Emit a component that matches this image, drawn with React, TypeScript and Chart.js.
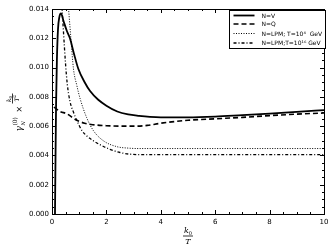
import React, { useEffect, useRef } from "react";
import { Chart, registerables } from "chart.js";
Chart.register(...registerables);

// N=V (solid)
const vK = [0.11, 0.13, 0.15, 0.18, 0.22, 0.27, 0.33, 0.42, 0.54, 0.66, 0.8, 0.97, 1.2, 1.4, 1.7, 2.0, 2.4, 2.8, 3.2, 3.6, 4.0, 5.0, 6.0, 7.0, 8.0, 9.0, 10.0];
const vG = [0, 0.004, 0.0075, 0.0105, 0.0126, 0.01345, 0.0137, 0.0132, 0.01253, 0.0120, 0.0110, 0.0099, 0.0090, 0.0084, 0.0078, 0.0074, 0.0070, 0.0068, 0.0067, 0.00663, 0.0066, 0.0066, 0.00665, 0.00675, 0.00685, 0.00697, 0.0071];
// N=Q (dashed)
const qK = [0.07, 0.3, 0.54, 0.91, 1.2, 1.5, 2.0, 2.5, 3.0, 3.5, 4.0, 5.0, 6.0, 7.0, 8.0, 9.0, 10.0];
const qG = [0.0073, 0.0070, 0.00685, 0.0064, 0.0062, 0.0061, 0.00603, 0.0060, 0.0060, 0.00605, 0.0062, 0.0064, 0.0065, 0.0066, 0.00672, 0.00682, 0.0069];
// N=LPM, T=1e4 GeV (dotted)
const l4K = [0.55, 0.6, 0.69, 0.79, 0.91, 1.03, 1.27, 1.52, 1.89, 2.38, 2.8, 3.2, 4, 5, 6, 7, 8, 9, 10];
const l4G = [0.0152, 0.0142, 0.0121, 0.0099, 0.0088, 0.0079, 0.0066, 0.0057, 0.0050, 0.0046, 0.0045, 0.00447, 0.00447, 0.00447, 0.00447, 0.00447, 0.00447, 0.00447, 0.00447];
// N=LPM, T=1e16 GeV (dash-dot)
const l16K = [0.34, 0.36, 0.42, 0.5, 0.56, 0.66, 0.8, 0.91, 1.1, 1.3, 1.52, 1.8, 2.13, 2.5, 2.9, 3.5, 4, 5, 6, 7, 8, 9, 10];
const l16G = [0.0152, 0.0144, 0.0125, 0.0102, 0.0089, 0.0077, 0.0069, 0.0064, 0.0057, 0.0053, 0.0050, 0.0047, 0.00442, 0.0042, 0.00408, 0.00405, 0.00405, 0.00405, 0.00405, 0.00405, 0.00405, 0.00405, 0.00405];

const seriesLabels = ["N=V", "N=Q", "N=LPM; T=10⁴  GeV", "N=LPM;T=10¹⁶ GeV"];
const xMin = 0, xMax = 10, xStep = 2, xMinor = 0.5;
const yMin = 0, yMax = 0.014, yStep = 0.002, yMinor = 0.0005;

const toPts = (k: number[], g: number[]) => k.map((x, i) => ({ x, y: g[i] }));

const styles = [
  { borderWidth: 1.8, borderDash: [] as number[] },
  { borderWidth: 1.6, borderDash: [5, 3] },
  { borderWidth: 1, borderDash: [1, 1.5] },
  { borderWidth: 1.3, borderDash: [3, 2, 1, 2] },
];

const framePlugin = {
  id: "frame",
  afterDraw(chart: any) {
    const { ctx, chartArea: a, scales } = chart;
    const xs = scales.x, ys = scales.y;
    ctx.save();
    ctx.strokeStyle = "#000";
    ctx.lineWidth = 1;
    const ln = (x1: number, y1: number, x2: number, y2: number) => {
      ctx.beginPath(); ctx.moveTo(x1, y1); ctx.lineTo(x2, y2); ctx.stroke();
    };
    // ticks
    const nx = Math.round((xMax - xMin) / xMinor);
    for (let i = 0; i <= nx; i++) {
      const v = xMin + i * xMinor;
      const px = Math.round(xs.getPixelForValue(v)) + 0.5;
      const major = Math.abs(v / xStep - Math.round(v / xStep)) < 1e-6;
      const len = major ? 4 : 2;
      ln(px, a.bottom, px, a.bottom - len);
      ln(px, a.top, px, a.top + len);
    }
    const ny = Math.round((yMax - yMin) / yMinor);
    for (let i = 0; i <= ny; i++) {
      const v = yMin + i * yMinor;
      const py = Math.round(ys.getPixelForValue(v)) + 0.5;
      const major = i % Math.round(yStep / yMinor) === 0;
      const len = major ? 4 : 2;
      ln(a.left, py, a.left + len, py);
      ln(a.right, py, a.right - len, py);
    }
    ctx.strokeRect(Math.round(a.left) + 0.5, Math.round(a.top) + 0.5, Math.round(a.right - a.left), Math.round(a.bottom - a.top));

    // legend
    const lw = 96, lh = 38;
    const lx = Math.round(a.right - lw + 1) + 0.5, ly = Math.round(a.top + 1) + 0.5;
    ctx.fillStyle = "#fff";
    ctx.fillRect(lx, ly, lw, lh);
    ctx.strokeRect(lx, ly, lw, lh);
    const rows = [5, 13.5, 23, 32.5];
    ctx.font = "6px 'DejaVu Sans'";
    ctx.textBaseline = "middle";
    chart.data.datasets.forEach((ds: any, i: number) => {
      const y = ly + rows[i];
      ctx.save();
      ctx.lineWidth = ds.borderWidth;
      ctx.setLineDash(ds.borderDash || []);
      ctx.beginPath(); ctx.moveTo(lx + 4, y); ctx.lineTo(lx + 25, y); ctx.stroke();
      ctx.restore();
      ctx.fillStyle = "#000";
      ctx.fillText(ds.label, lx + 32, y + 0.5);
    });

    // x axis label: k0 / T
    const cx = (a.left + a.right) / 2;
    ctx.fillStyle = "#000";
    ctx.textBaseline = "alphabetic";
    ctx.font = "italic 8px 'DejaVu Serif'";
    const kw = ctx.measureText("k").width;
    ctx.font = "5px 'DejaVu Serif'";
    const zw = ctx.measureText("0").width;
    const nx0 = cx - (kw + zw) / 2;
    ctx.font = "italic 8px 'DejaVu Serif'";
    ctx.fillText("k", nx0, a.bottom + 19);
    ctx.font = "5px 'DejaVu Serif'";
    ctx.fillText("0", nx0 + kw, a.bottom + 21);
    ctx.lineWidth = 0.8;
    ln(cx - 5, a.bottom + 22, cx + 5, a.bottom + 22);
    ctx.font = "italic 8px 'DejaVu Serif'";
    ctx.textAlign = "center";
    ctx.fillText("T", cx, a.bottom + 30);
    ctx.textAlign = "left";

    // y axis label (rotated)
    const cy = (a.top + a.bottom) / 2;
    ctx.save();
    ctx.translate(23, cy + 20);
    ctx.rotate(-Math.PI / 2);
    ctx.font = "italic 9px 'DejaVu Serif'";
    ctx.fillText("γ", 0, -1);
    const gw = ctx.measureText("γ").width;
    ctx.font = "6px 'DejaVu Serif'";
    ctx.fillText("(0)", gw + 0.5, -6);
    ctx.font = "italic 5px 'DejaVu Serif'";
    ctx.fillText("N", gw + 0.5, 1.5);
    ctx.font = "8px 'DejaVu Sans'";
    ctx.fillText("×", 19, -1.5);
    // fraction k0 / T^2
    const fx = 33;
    ctx.lineWidth = 0.8;
    ln(fx - 5, -10.5, fx + 5, -10.5);
    ctx.font = "italic 6px 'DejaVu Serif'";
    ctx.fillText("k", fx - 3.5, -12);
    ctx.font = "4px 'DejaVu Serif'";
    ctx.fillText("0", fx + 0, -10.8);
    ctx.font = "italic 6px 'DejaVu Serif'";
    ctx.fillText("T", fx - 3, -4.5);
    ctx.font = "4px 'DejaVu Serif'";
    ctx.fillText("2", fx + 1, -7);
    ctx.restore();
    ctx.restore();
  },
};

export default function App() {
  const ref = useRef<HTMLCanvasElement>(null);
  useEffect(() => {
    if (!ref.current) return;
    const data = [toPts(vK, vG), toPts(qK, qG), toPts(l4K, l4G), toPts(l16K, l16G)];
    const chart = new Chart(ref.current, {
      type: "line",
      data: {
        datasets: data.map((d, i) => ({
          label: seriesLabels[i],
          data: d,
          borderColor: "#000",
          backgroundColor: "#000",
          borderWidth: styles[i].borderWidth,
          borderDash: styles[i].borderDash,
          pointRadius: 0,
          fill: false,
          cubicInterpolationMode: "monotone" as const,
        })),
      },
      options: {
        animation: false,
        responsive: true,
        maintainAspectRatio: false,
        layout: { padding: { left: 0, top: 9, right: 12, bottom: 0 } },
        plugins: { legend: { display: false }, tooltip: { enabled: false } },
        scales: {
          x: {
            type: "linear",
            min: xMin,
            max: xMax,
            grid: { display: false, drawTicks: false },
            border: { display: false },
            ticks: {
              stepSize: xStep,
              padding: 4,
              color: "#000",
              font: { family: "'DejaVu Sans'", size: 7 },
              maxRotation: 0,
            },
            afterFit: (s: any) => { s.height = 38; },
          },
          y: {
            type: "linear",
            min: yMin,
            max: yMax,
            grid: { display: false, drawTicks: false },
            border: { display: false },
            ticks: {
              stepSize: yStep,
              padding: 3,
              color: "#000",
              font: { family: "'DejaVu Sans'", size: 7 },
              callback: (v: any) => Number(v).toFixed(3),
            },
            afterFit: (s: any) => { s.width = 52; },
          },
        },
      },
      plugins: [framePlugin],
    });
    return () => chart.destroy();
  }, []);
  return (
    <div style={{ position: "fixed", left: 0, top: 0, width: 336, height: 252, background: "#fff" }}>
      <canvas ref={ref} />
    </div>
  );
}
